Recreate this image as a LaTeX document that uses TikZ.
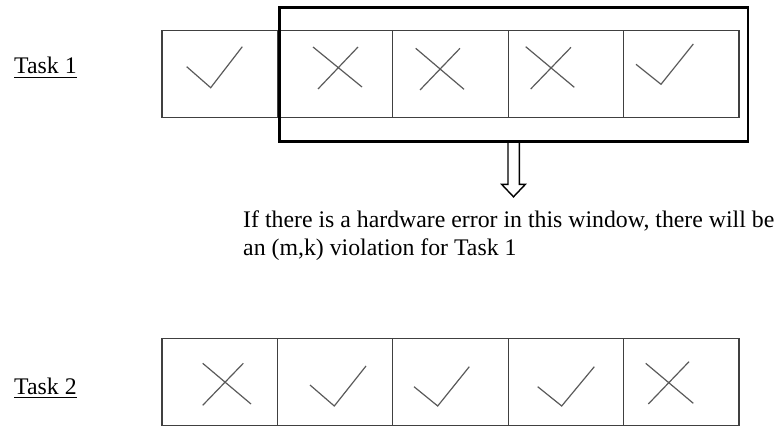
\documentclass[tikz,border=0pt]{standalone}
\usepackage{fontspec}
\setmainfont{Liberation Serif}
\definecolor{cellgray}{HTML}{404040}
\definecolor{markgray}{HTML}{5A5A5A}
\begin{document}
\begin{tikzpicture}[x=1pt,y=-1pt,
  cell/.style={draw=cellgray, line width=1.3pt, minimum width=115.4pt,
    minimum height=87pt, inner sep=0pt},
  window/.style={draw=black, line width=2.4pt, minimum width=468.4pt,
    minimum height=134.2pt, inner sep=0pt},
  tickmark/.style={draw=markgray, line width=1.2pt},
  tasklabel/.style={font=\fontsize{23.8}{28}\selectfont, inner sep=0pt,
    anchor=base west},
  notetext/.style={font=\fontsize{23.8}{28}\selectfont, inner sep=0pt,
    anchor=base west},
  underline/.style={draw=black, line width=1pt},
  hollowarrow/.style={draw=black, line width=1.4pt, fill=white, line join=miter}]
\useasboundingbox (0,0) rectangle (778,427);

% Task labels
\node[tasklabel] (t1) at (14,74) {Task 1};
\node[tasklabel] (t2) at (14,394.3) {Task 2};
\draw[underline] ([yshift=-3.2pt]t1.base west) -- ([yshift=-3.2pt]t1.base east);
\draw[underline] ([yshift=-2.8pt]t2.base west) -- ([yshift=-2.8pt]t2.base east);

% cell rows
\foreach \i in {1,...,5} {
  \node[cell] (a\i) at ({162+115.4*(\i-0.5)},74) {};
  \node[cell] (b\i) at ({162+115.4*(\i-0.5)},382) {};
}

% Task 1 outcomes
\draw[tickmark] (186.7,66.7) -- (210.7,87.7) -- (242.3,46.7);
\draw[tickmark] (313,47) -- (362,87) (318,89) -- (358,47);
\draw[tickmark] (415.7,48.3) -- (464,89.3) (420,90) -- (460,48.3);
\draw[tickmark] (525.7,46.7) -- (574.3,87.3) (530.7,89) -- (571,47.3);
\draw[tickmark] (636,64.3) -- (661,84.3) -- (693.3,44);

% Task 2 outcomes
\draw[tickmark] (202.7,363.3) -- (251,404) (202.7,405.3) -- (243.3,363.3);
\draw[tickmark] (310,385) -- (334.3,406) -- (366,366);
\draw[tickmark] (414,386.7) -- (437.7,406) -- (469.3,366.7);
\draw[tickmark] (537.7,386.7) -- (561.7,406) -- (594.3,366.7);
\draw[tickmark] (645.7,363.3) -- (693.3,403.3) (648.3,404) -- (689,361.7);

% sliding window and its hollow arrow
\node[window] (win) at (513.5,74.6) {};
\coordinate (astart) at (win.south);
\draw[hollowarrow] ([xshift=-5.5pt]astart) -- ++(0,41.5) -- ++(-6.3,0)
  -- ++(11.8,12.4) -- ++(11.8,-12.4) -- ++(-6,0) -- ++(0,-41.5);
\node[window] at (win) {};

% explanation
\node[notetext] (n1) at (243,227.7) {If there is a hardware error in this window,\ there will be};
\node[notetext] (n2) at (243,255.7) {an (m,k) violation for Task 1};
\end{tikzpicture}
\end{document}
